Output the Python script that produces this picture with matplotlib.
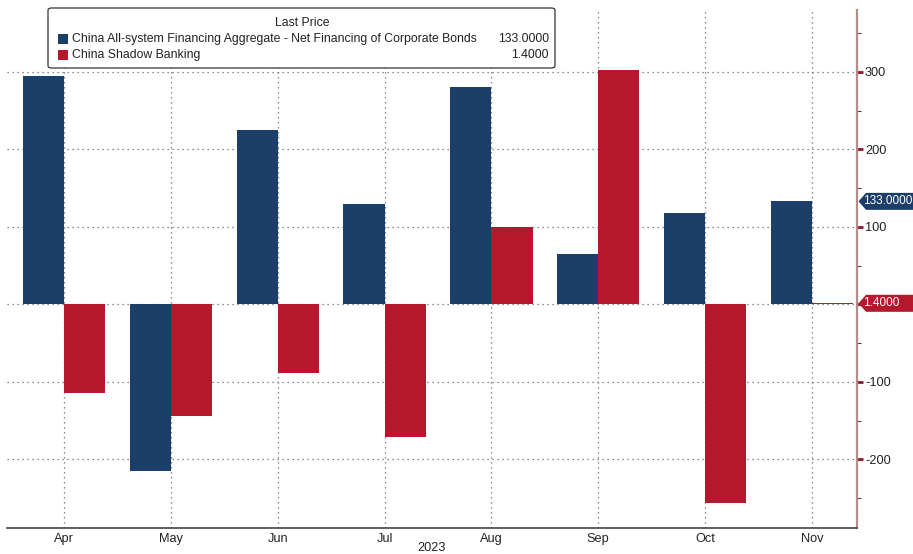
import matplotlib
matplotlib.use('Agg')
import matplotlib.pyplot as plt
from matplotlib.patches import FancyBboxPatch, Rectangle, Polygon
import numpy as np

# ---- data ----
months = ['Apr', 'May', 'Jun', 'Jul', 'Aug', 'Sep', 'Oct', 'Nov']
corp_bonds = [295, -215, 225, 129, 280, 65, 118, 133]
shadow_banking = [-114, -144, -88, -171, 100, 303, -256, 1.4]
series_names = ['China All-system Financing Aggregate - Net Financing of Corporate Bonds',
                'China Shadow Banking']
last_values = ['133.0000', '1.4000']
legend_title = 'Last Price'
y_ticks = [-200, -100, 0, 100, 200, 300]
y_tick_labels = ['-200', '-100', '', '100', '200', '300']
y_minor = [-250, -150, -50, 50, 150, 250, 350]
year_label = '2023'

BLUE = '#1c3f6a'
RED = '#b5172c'

plt.rcParams['font.family'] = ['Liberation Sans', 'DejaVu Sans']
FS = 8.8
TFS = 9.2

W, H = 913, 554
fig = plt.figure(figsize=(W / 100, H / 100), dpi=100)
fig.patch.set_facecolor('white')
ax = fig.add_axes([7 / W, 1 - 528.3 / H, (857.3 - 7) / W, (528.3 - 10) / H])

x = np.arange(len(months))
w = 0.385
ax.bar(x - w / 2, corp_bonds, w, color=BLUE, zorder=2)
ax.bar(x + w / 2, shadow_banking, w, color=RED, zorder=2)
ax.set_xlim(-0.533, 7.424)
ax.set_ylim(-289, 380)
ax.set_axisbelow(True)

ax.set_xticks(x)
ax.set_xticklabels(months, fontsize=TFS, color='#222222')
ax.yaxis.tick_right()
ax.set_yticks(y_ticks)
ax.set_yticklabels(y_tick_labels, fontsize=TFS, color='#222222')
ax.set_yticks(y_minor, minor=True)
ax.tick_params(axis='x', length=0, pad=3.5)
ax.tick_params(axis='y', which='major', length=4.5, width=2, color='#8b1a2a', pad=1)
ax.tick_params(axis='y', which='minor', length=3, width=0.8, color='#444444')

ax.grid(True, which='major', linestyle=(0, (1, 3)), color='#666666', linewidth=0.9)

for s in ['left', 'top']:
    ax.spines[s].set_visible(False)
ax.spines['right'].set_color('#b48c8c')
ax.spines['right'].set_linewidth(1.6)
ax.spines['bottom'].set_color('#444444')
ax.spines['bottom'].set_linewidth(1.2)

def fx(px):
    return px / W

def fy(py):
    return 1 - py / H

fig.text(fx(432), fy(548), year_label, ha='center', va='center', fontsize=TFS, color='#222222')

# last value tags (drawn in pixel space at the data height of the last value)
for val, txt, col in [(corp_bonds[-1], last_values[0], BLUE), (shadow_banking[-1], last_values[1], RED)]:
    _, ypix = ax.transData.transform((0, val))
    yc = H - ypix
    pts = [(858.5, yc), (866, yc - 8.5), (913, yc - 8.5), (913, yc + 8.5), (866, yc + 8.5)]
    fig.patches.append(Polygon([(fx(a), fy(b)) for a, b in pts], closed=True,
                               transform=fig.transFigure, fc=col, ec='none', zorder=5))
    fig.text(fx(863), fy(yc), txt, ha='left', va='center', color='white', fontsize=8.5, zorder=6)

# legend box
box = FancyBboxPatch((fx(48), fy(68)), fx(555) - fx(48), fy(8) - fy(68),
                     boxstyle='round,pad=0,rounding_size=0.004', transform=fig.transFigure,
                     fc='white', ec='#333333', lw=0.9, zorder=10)
fig.patches.append(box)
fig.text(fx(302), fy(23), legend_title, ha='center', va='center', fontsize=FS, color='#222222', zorder=11)
for i, (name, val, col) in enumerate(zip(series_names, last_values, [BLUE, RED])):
    yc = 39 + i * 16
    fig.patches.append(Rectangle((fx(58), fy(yc + 5)), fx(68) - fx(58), fy(yc - 5) - fy(yc + 5),
                                 transform=fig.transFigure, fc=col, ec='none', zorder=11))
    fig.text(fx(72), fy(yc), name, ha='left', va='center', fontsize=FS, color='#222222', zorder=11)
    fig.text(fx(549), fy(yc), val, ha='right', va='center', fontsize=FS, color='#222222', zorder=11)

fig.savefig('out.png', dpi=100, facecolor='white')
